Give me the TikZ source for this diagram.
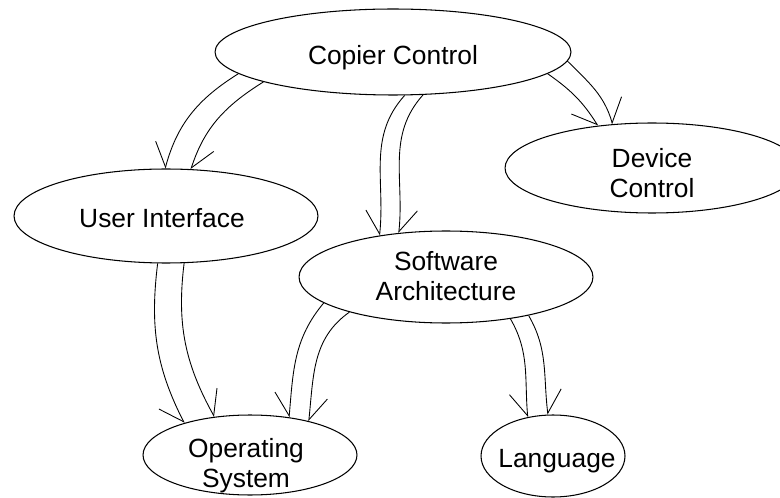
\documentclass[tikz,border=0pt]{standalone}
\usepackage{fontspec}
\setmainfont{Liberation Sans}
\usetikzlibrary{arrows.meta,shapes.geometric}
\tikzset{
  topic/.style={draw=black, ellipse, inner sep=0pt, line width=0.6pt},
  tag/.style={align=center, inner sep=0pt, font=\fontsize{15}{17}\selectfont},
  linkR/.style={-{Straight Barb[right,length=4.5mm,width=6.5mm]}, line width=0.5pt},
  linkL/.style={-{Straight Barb[left,length=4.5mm,width=6.5mm]}, line width=0.5pt}
}
\begin{document}
\begin{tikzpicture}[x=0.02cm, y=0.02cm]
\useasboundingbox (0,0) rectangle (780,497);
% ---- topics ----
\node[topic, minimum width=7.12cm, minimum height=1.72cm] (copier) at (393,445) {};
\node[topic, minimum width=5.88cm, minimum height=1.8cm] (device) at (652,329) {};
\node[topic, minimum width=6.08cm, minimum height=1.88cm] (iface) at (166,281) {};
\node[topic, minimum width=5.88cm, minimum height=1.84cm] (arch) at (446,220) {};
\node[topic, minimum width=4.28cm, minimum height=1.6cm] (os) at (250,42) {};
\node[topic, minimum width=2.88cm, minimum height=1.64cm] (lang) at (553,41) {};
\node[tag] (copierTxt) at (393,439) {Copier Control};
\node[tag] (deviceTxt) at (652,324) {Device\\Control};
\node[tag] (ifaceTxt) at (162,279) {User Interface};
\node[tag] (archTxt) at (446,221) {Software\\Architecture};
\node[tag] (osTxt) at (246,31) {Operating\\System};
\node[tag] (langTxt) at (557,36) {Language};
% ---- double links ----
\draw[linkR] (copier.188) to[out=212,in=75] (iface.91);
\draw[linkL] (copier.193) to[out=212,in=72] (iface.62);
\draw[linkR] (copier.285) to[out=228,in=84] (arch.148);
\draw[linkL] (copier.305) to[out=228,in=84] (arch.137);
\draw[linkL] (copier.357) to[out=315,in=106] (device.132);
\draw[linkR] (copier.352) to[out=325,in=122] (device.142);
\draw[linkR] (iface.260) to[out=263,in=117] (os.154);
\draw[linkL] (iface.291) to[out=263,in=119] (os.133);
\draw[linkR] (arch.192) to[out=230,in=85] (os.44);
\draw[linkL] (arch.200) to[out=215,in=84] (os.30);
\draw[linkR] (arch.327) to[out=300,in=95] (lang.123);
\draw[linkL] (arch.335) to[out=300,in=97] (lang.97);
\end{tikzpicture}
\end{document}
